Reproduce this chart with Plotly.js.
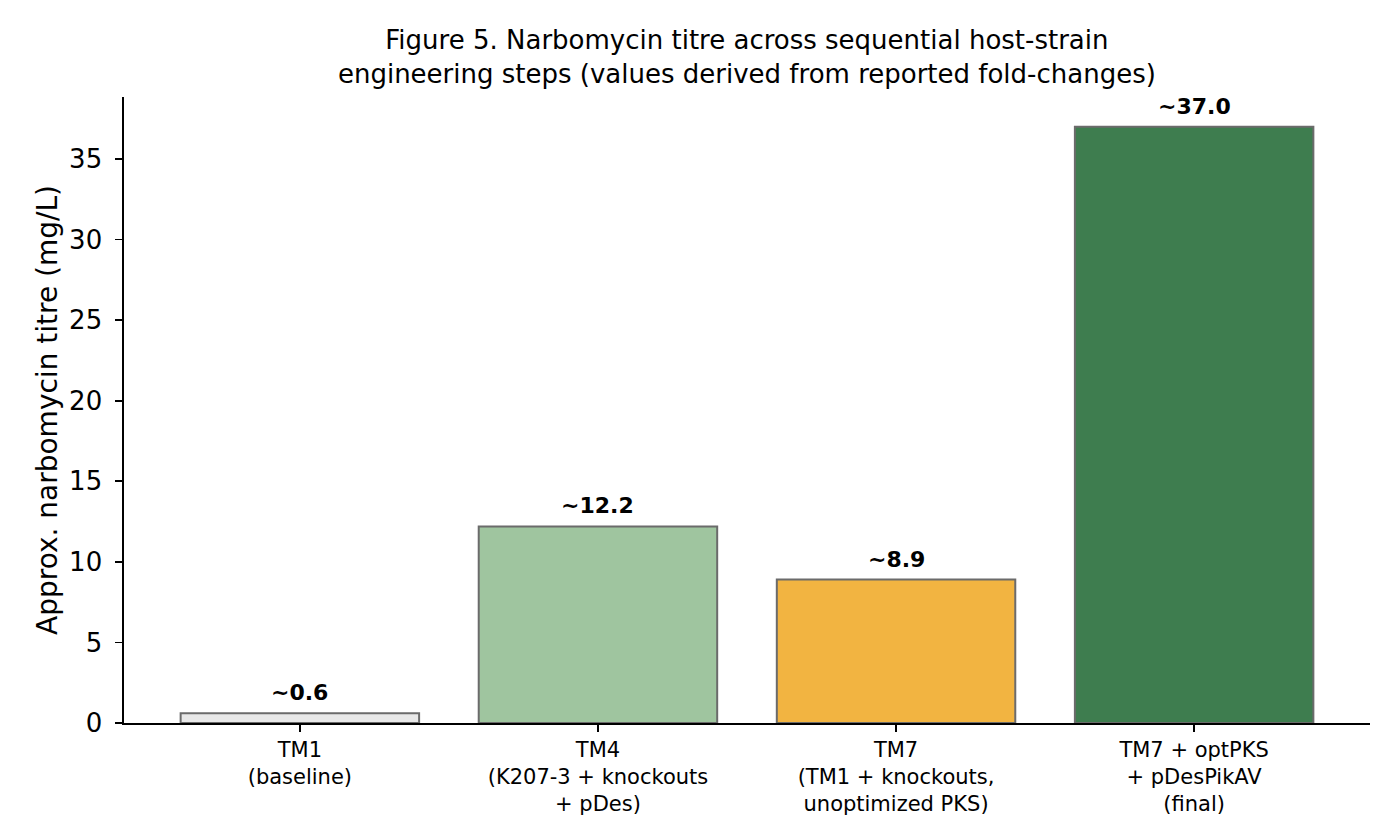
<!DOCTYPE html>
<html>
<head>
<meta charset="utf-8">
<script src="https://cdn.plot.ly/plotly-3.0.1.min.js"></script>
<style>
  body { margin: 0; background: #fff; }
  #chart { width: 1400px; height: 840px; }
</style>
</head>
<body>
<div id="chart"></div>
<script>
// strain steps and approximate titres (mg/L)
var strains = ['TM1<br>(baseline)', 'TM4<br>(K207-3 + knockouts<br>+ pDes)',
               'TM7<br>(TM1 + knockouts,<br>unoptimized PKS)', 'TM7 + optPKS<br>+ pDesPikAV<br>(final)'];
var titres = [0.6, 12.2, 8.9, 37.0];
var barLabels = ['~0.6', '~12.2', '~8.9', '~37.0'];
var barColors = ['#e8e8e8', '#9fc59f', '#f2b441', '#3e7d4f'];
var yTicks = [0, 5, 10, 15, 20, 25, 30, 35];

var xIdx = strains.map(function (s, i) { return i; });

var trace = {
    type: 'bar',
    x: xIdx,
    y: titres,
    width: 0.8,
    marker: {
        color: barColors,
        line: { color: '#6b6b6b', width: 2 }
    },
    hoverinfo: 'skip'
};

var annotations = xIdx.map(function (i) {
    return {
        x: i, y: titres[i],
        xref: 'x', yref: 'y',
        text: '<b>' + barLabels[i] + '</b>',
        showarrow: false,
        yanchor: 'bottom',
        yshift: 6,
        font: { family: 'DejaVu Sans', size: 22, color: '#000' }
    };
});

var layout = {
    width: 1400,
    height: 840,
    paper_bgcolor: '#fff',
    plot_bgcolor: '#fff',
    margin: { l: 124, r: 30, t: 97, b: 117 },
    font: { family: 'DejaVu Sans', color: '#000' },
    showlegend: false,
    title: {
        text: 'Figure 5. Narbomycin titre across sequential host-strain<br>engineering steps (values derived from reported fold-changes)',
        font: { family: 'DejaVu Sans', size: 26, color: '#000' },
        x: 0.5335, xanchor: 'center',
        y: 0.942, yanchor: 'top'
    },
    xaxis: {
        range: [-0.59, 3.59],
        tickvals: xIdx,
        ticktext: strains,
        tickfont: { size: 21 },
        ticks: 'outside', ticklen: 7, tickwidth: 1.6, tickcolor: '#000',
        showline: true, linecolor: '#000', linewidth: 1.6,
        showgrid: false, zeroline: false
    },
    yaxis: {
        range: [0, 38.85],
        tickvals: yTicks,
        tickfont: { size: 26 },
        ticks: 'outside', ticklen: 7, tickwidth: 1.6, tickcolor: '#000',
        ticklabelstandoff: 8,
        showline: true, linecolor: '#000', linewidth: 1.6,
        showgrid: false, zeroline: false,
        title: { text: 'Approx. narbomycin titre (mg/L)', font: { size: 28 }, standoff: 3 }
    },
    annotations: annotations
};

Plotly.newPlot('chart', [trace], layout, { staticPlot: true });
</script>
</body>
</html>
